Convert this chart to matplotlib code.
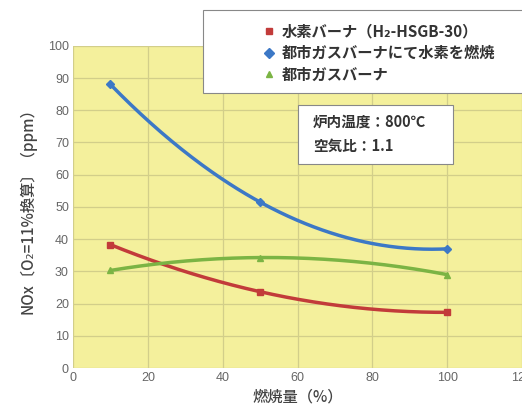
import matplotlib
matplotlib.use('Agg')
import matplotlib.pyplot as plt
from matplotlib.patches import Rectangle
from matplotlib.lines import Line2D
import numpy as np

plt.rcParams['font.family'] = ['Noto Sans CJK JP', 'DejaVu Sans']

# data
load = [10, 50, 100]
nox_h2_burner = [38.3, 23.7, 17.3]
nox_city_burner_h2 = [88.0, 51.5, 37.0]
nox_city_burner = [30.3, 34.3, 29.0]

series_labels = ['水素バーナ（H₂-HSGB-30）', '都市ガスバーナにて水素を燃焼', '都市ガスバーナ']
series_colors = ['#C23B3A', '#3C78C6', '#7BB444']
series_markers = ['s', 'D', '^']


def smooth(x, y, n=200):
    # smooth curve through the measured points (quadratic through 3 points)
    c = np.polyfit(x, y, len(x) - 1)
    xs = np.linspace(min(x), max(x), n)
    return xs, np.polyval(c, xs)


fig = plt.figure(figsize=(5.22, 4.09), dpi=100)
ax = fig.add_axes([0.140, 0.100, 0.860, 0.788])
ax.set_facecolor('#F4F09C')

for yv, col, mk in zip([nox_h2_burner, nox_city_burner_h2, nox_city_burner], series_colors, series_markers):
    sx, sy = smooth(load, yv)
    ax.plot(sx, sy, color=col, lw=2.5, solid_capstyle='round', zorder=3)
    ax.plot(load, yv, linestyle='none', marker=mk, color=col, ms=4.5, zorder=4)

ax.set_xlim(0, 120)
ax.set_ylim(0, 100)
ax.set_xticks(range(0, 121, 20))
ax.set_yticks(range(0, 101, 10))
ax.grid(True, color='#D2CE8A', lw=0.9)
ax.set_axisbelow(True)
for s in ax.spines.values():
    s.set_visible(False)
ax.tick_params(length=0, labelsize=9, colors='#666666', pad=3)
for lbl in ax.get_xticklabels() + ax.get_yticklabels():
    lbl.set_family(['Liberation Sans', 'DejaVu Sans'])
ax.set_xlabel('燃焼量（%）', fontsize=11, color='#444444', labelpad=3, fontweight='medium')
ax.set_ylabel('NOx〔O₂=11%換算〕（ppm）', fontsize=11, color='#444444', labelpad=8, fontweight='medium')

# legend box
fig.patches.append(Rectangle((203 / 522, 1 - 93 / 409), 330 / 522, 83 / 409, transform=fig.transFigure,
                             facecolor='white', edgecolor='#888888', lw=0.8, zorder=5))
handles = [Line2D([], [], linestyle='none', marker=m, color=c, ms=5) for m, c in zip(series_markers, series_colors)]
leg = fig.legend(handles, series_labels, loc='upper left', bbox_to_anchor=(251 / 522, 1 - 10 / 409),
                 frameon=False, handlelength=0.6, handletextpad=0.5, labelspacing=0.35,
                 prop={'size': 11, 'weight': 'bold'}, labelcolor='#333333')
leg.set_zorder(6)

# condition box
fig.patches.append(Rectangle((298 / 522, 1 - 164 / 409), 155 / 522, 59 / 409, transform=fig.transFigure,
                             facecolor='white', edgecolor='#888888', lw=0.8, zorder=5))
fig.text(313 / 522, 1 - 134 / 409, '炉内温度：800℃\n空気比：1.1', fontsize=10.5, color='#333333',
         va='center', ha='left', linespacing=1.6, fontweight='bold', zorder=6)

fig.savefig('out.png', dpi=100)
